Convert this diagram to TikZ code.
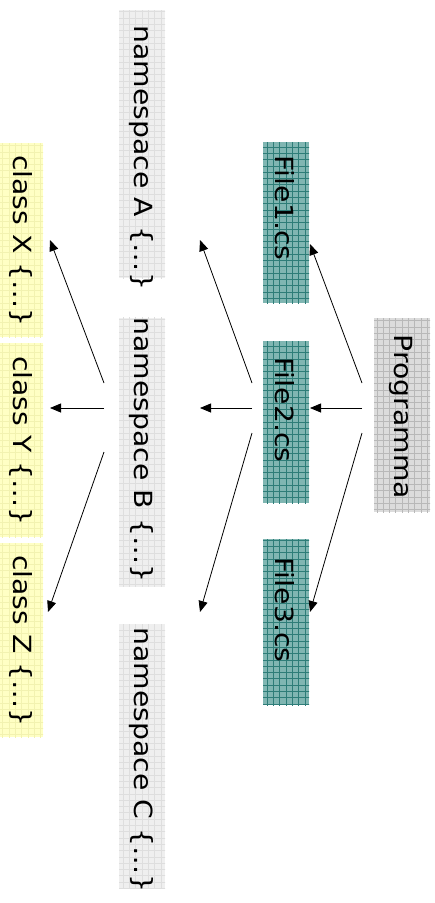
\documentclass[tikz,border=0pt]{standalone}
\usepackage{fontspec}
\setmainfont{DejaVu Sans}
\usetikzlibrary{arrows.meta,calc}
\definecolor{progfill}{HTML}{DCDCDC}
\definecolor{progline}{HTML}{B8B8B8}
\definecolor{filefill}{HTML}{80B6B2}
\definecolor{fileline}{HTML}{2E7D78}
\definecolor{nsfill}{HTML}{EFEFEF}
\definecolor{nsline}{HTML}{DEDEDE}
\definecolor{clsfill}{HTML}{FFFFC4}
\definecolor{clsline}{HTML}{F2F2B0}
\newcommand{\stext}[1]{\scalebox{1.13}[1]{#1}}
\tikzset{
  gbox/.style n args={2}{rotate=-90, inner sep=0pt, outer sep=0pt, fill=#1,
    path picture={\draw[#2, line width=0.5pt] ([shift={(-300pt,-300pt)}]path picture bounding box.center) grid[step=6.3pt] ([shift={(300pt,300pt)}]path picture bounding box.center);}},
  progbox/.style={gbox={progfill}{progline}, minimum height=56pt},
  filebox/.style={gbox={filefill}{fileline}, minimum height=46pt},
  nsbox/.style={gbox={nsfill}{nsline}, minimum height=46pt},
  clsbox/.style={gbox={clsfill}{clsline}, minimum height=43pt},
  lbl/.style={rotate=-90, inner sep=0pt, font=\fontsize{25}{30}\selectfont},
  arr/.style={-{Triangle[length=11pt,width=9pt]}, line width=0.8pt, black}
}
\begin{document}
\begin{tikzpicture}[x=1pt,y=-1pt]
\useasboundingbox (0,0) rectangle (435,903);
% boxes
\node[progbox, minimum width=194pt] (prog) at (402,415) {};
\node[filebox, minimum width=161pt] (f1) at (286,222.5) {};
\node[filebox, minimum width=162pt] (f2) at (286,422) {};
\node[filebox, minimum width=166pt] (f3) at (286,622) {};
\node[nsbox, minimum width=268pt] (nsa) at (142,144) {};
\node[nsbox, minimum width=269pt] (nsb) at (142,452) {};
\node[nsbox, minimum width=264pt] (nsc) at (142,756) {};
\node[clsbox, minimum width=194pt] (cx) at (21.5,240) {};
\node[clsbox, minimum width=194pt] (cy) at (21.5,440) {};
\node[clsbox, minimum width=194pt] (cz) at (21.5,640) {};
% labels
\node[lbl] (tprog) at (401,417) {\stext{Programma}};
\node[lbl] (tf1) at (285,208) {\stext{File1.cs}};
\node[lbl] (tf2) at (285,410) {\stext{File2.cs}};
\node[lbl] (tf3) at (285,610) {\stext{File3.cs}};
\node[lbl] (tnsa) at (141,158) {\stext{namespace A \{…\}}};
\node[lbl] (tnsb) at (141,450) {\stext{namespace B \{…\}}};
\node[lbl] (tnsc) at (141,760) {\stext{namespace C \{…\}}};
\node[lbl] (tcx) at (20.5,241) {\stext{class X \{…\}}};
\node[lbl] (tcy) at (20.5,441) {\stext{class Y \{…\}}};
\node[lbl] (tcz) at (20.5,641) {\stext{class Z \{…\}}};
% arrows Programma -> files
\draw[arr] ($(prog.south)+(-12,-32)$) -- ($(f1.north)+(1,21.5)$);
\draw[arr] ($(prog.south)+(-12,-7)$) -- ($(f2.north)+(1,-14)$);
\draw[arr] ($(prog.south)+(-12,18)$) -- ($(f3.north)+(1,-10)$);
% arrows File2 -> namespaces
\draw[arr] ($(f2.south)+(-11,-39)$) -- ($(nsa.north)+(35,96)$);
\draw[arr] ($(f2.south)+(-11,-14)$) -- ($(nsb.north)+(35,-44)$);
\draw[arr] ($(f2.south)+(-11,11)$) -- ($(nsc.north)+(35,-144)$);
% arrows namespace B -> classes
\draw[arr] ($(nsb.south)+(-15,-69)$) -- ($(cx.north)+(7,0)$);
\draw[arr] ($(nsb.south)+(-15,-44)$) -- ($(cy.north)+(7,-32)$);
\draw[arr] ($(nsb.south)+(-15,0)$) -- ($(cz.north)+(5,-28)$);
\end{tikzpicture}
\end{document}
